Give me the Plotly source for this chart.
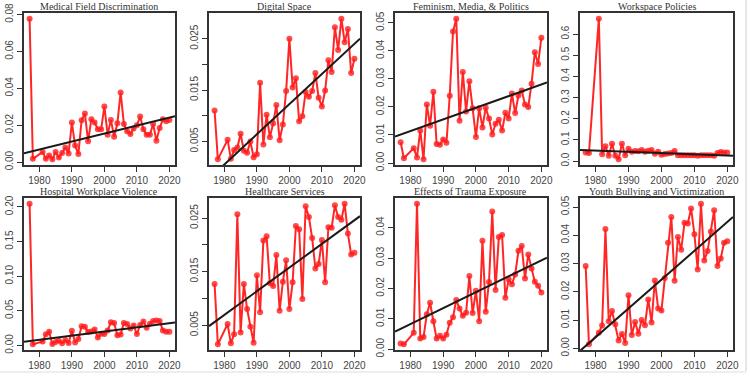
import plotly.graph_objects as go

# ---------------- data ----------------
years = [1977, 1978, 1981, 1982, 1983, 1984, 1985, 1986, 1987, 1988, 1989,
         1990, 1991, 1992, 1993, 1994, 1995, 1996, 1997, 1998, 1999,
         2000, 2001, 2002, 2003, 2004, 2005, 2006, 2007, 2008, 2009,
         2010, 2011, 2012, 2013, 2014, 2015, 2016, 2017, 2018, 2019, 2020]

titles = ["Medical Field Discrimination", "Digital Space", "Feminism, Media, & Politics",
          "Workspace Policies", "Hospital Workplace Violence", "Healthcare Services",
          "Effects of Trauma Exposure", "Youth Bullying and Victimization"]

medical_field = [0.0778, 0.0018, 0.0055, 0.0018, 0.0036, 0.0015, 0.0055, 0.0025, 0.0050, 0.0080, 0.0047,
                 0.0215, 0.0090, 0.0044, 0.0227, 0.0264, 0.0113, 0.0233, 0.0215, 0.0178, 0.0178,
                 0.0302, 0.0149, 0.0229, 0.0138, 0.0211, 0.0378, 0.0207, 0.0167, 0.0153, 0.0182,
                 0.0200, 0.0247, 0.0178, 0.0149, 0.0149, 0.0207, 0.0116, 0.0185, 0.0233, 0.0222, 0.0229]

digital_space = [0.0110, 0.0015, 0.0053, 0.0016, 0.0033, 0.0038, 0.0065, 0.0032, 0.0028, 0.0050, 0.0019,
                 0.0025, 0.0164, 0.0044, 0.0102, 0.0058, 0.0085, 0.0121, 0.0052, 0.0083, 0.0148,
                 0.0250, 0.0155, 0.0173, 0.0089, 0.0099, 0.0146, 0.0137, 0.0148, 0.0183, 0.0135,
                 0.0118, 0.0149, 0.0208, 0.0185, 0.0272, 0.0228, 0.0289, 0.0243, 0.0269, 0.0183, 0.0211]

feminism_media = [0.0074, 0.0017, 0.0053, 0.0020, 0.0116, 0.0013, 0.0209, 0.0133, 0.0254, 0.0068, 0.0065,
                  0.0084, 0.0072, 0.0240, 0.0469, 0.0515, 0.0151, 0.0325, 0.0184, 0.0292, 0.0195,
                  0.0093, 0.0195, 0.0127, 0.0197, 0.0159, 0.0102, 0.0140, 0.0154, 0.0116, 0.0179,
                  0.0159, 0.0248, 0.0178, 0.0241, 0.0259, 0.0209, 0.0200, 0.0283, 0.0395, 0.0353, 0.0447]

workspace_policies = [0.040, 0.038, 0.673, 0.032, 0.070, 0.025, 0.082, 0.025, 0.008, 0.082, 0.028,
                      0.058, 0.044, 0.047, 0.046, 0.052, 0.044, 0.049, 0.052, 0.035, 0.044,
                      0.030, 0.033, 0.036, 0.038, 0.047, 0.028, 0.027, 0.027, 0.027, 0.027,
                      0.028, 0.025, 0.027, 0.027, 0.027, 0.027, 0.025, 0.038, 0.043, 0.040, 0.040]

hospital_violence = [0.2048, 0.0015, 0.0058, 0.0160, 0.0198, 0.0020, 0.0050, 0.0067, 0.0030, 0.0077, 0.0034,
                     0.0212, 0.0043, 0.0092, 0.0275, 0.0270, 0.0193, 0.0202, 0.0231, 0.0116, 0.0169,
                     0.0164, 0.0217, 0.0333, 0.0323, 0.0145, 0.0159, 0.0323, 0.0308, 0.0246, 0.0289,
                     0.0164, 0.0294, 0.0347, 0.0255, 0.0313, 0.0352, 0.0361, 0.0352, 0.0217, 0.0198, 0.0198]

healthcare_services = [0.0127, 0.0014, 0.0052, 0.0016, 0.0033, 0.0257, 0.0036, 0.0127, 0.0080, 0.0047, 0.0017,
                       0.0143, 0.0074, 0.0208, 0.0216, 0.0128, 0.0123, 0.0181, 0.0077, 0.0131, 0.0171,
                       0.0080, 0.0130, 0.0235, 0.0229, 0.0099, 0.0272, 0.0252, 0.0213, 0.0156, 0.0164,
                       0.0209, 0.0130, 0.0233, 0.0232, 0.0274, 0.0252, 0.0247, 0.0277, 0.0221, 0.0182, 0.0185]

trauma_exposure = [0.0019, 0.0016, 0.0054, 0.0479, 0.0035, 0.0040, 0.0115, 0.0153, 0.0092, 0.0035, 0.0044,
                   0.0035, 0.0048, 0.0087, 0.0105, 0.0162, 0.0134, 0.0110, 0.0120, 0.0241, 0.0119,
                   0.0192, 0.0092, 0.0357, 0.0123, 0.0221, 0.0453, 0.0195, 0.0369, 0.0376, 0.0169,
                   0.0230, 0.0214, 0.0246, 0.0324, 0.0340, 0.0233, 0.0312, 0.0266, 0.0222, 0.0209, 0.0187]

youth_bullying = [0.0291, 0.0014, 0.0055, 0.0081, 0.0422, 0.0096, 0.0132, 0.0085, 0.0028, 0.0051, 0.0019,
                  0.0188, 0.0047, 0.0093, 0.0052, 0.0100, 0.0082, 0.0173, 0.0091, 0.0240, 0.0141,
                  0.0134, 0.0249, 0.0374, 0.0465, 0.0239, 0.0394, 0.0349, 0.0444, 0.0442, 0.0495,
                  0.0404, 0.0279, 0.0512, 0.0311, 0.0344, 0.0413, 0.0489, 0.0291, 0.0318, 0.0374, 0.0379]

series = [medical_field, digital_space, feminism_media, workspace_policies,
          hospital_violence, healthcare_services, trauma_exposure, youth_bullying]

# fitted trend line values at 1980 and 2020
trend_1980 = [0.0068, 0.0005, 0.0114, 0.0493, 0.0080, 0.0069, 0.0083, 0.0039]
trend_2020 = [0.0242, 0.0240, 0.0280, 0.0261, 0.0321, 0.0246, 0.0292, 0.0447]

# y tick values and labels
ytick_vals = [
    [0.00, 0.02, 0.04, 0.06, 0.08],
    [0.005, 0.010, 0.015, 0.020, 0.025],
    [0.00, 0.01, 0.02, 0.03, 0.04, 0.05],
    [0.0, 0.1, 0.2, 0.3, 0.4, 0.5, 0.6],
    [0.00, 0.05, 0.10, 0.15, 0.20],
    [0.005, 0.010, 0.015, 0.020, 0.025],
    [0.00, 0.01, 0.02, 0.03, 0.04],
    [0.00, 0.01, 0.02, 0.03, 0.04, 0.05],
]
ytick_text = [
    ["0.00", "0.02", "0.04", "0.06", "0.08"],
    ["0.005", "", "0.015", "", "0.025"],
    ["0.00", "0.01", "0.02", "0.03", "0.04", "0.05"],
    ["0.0", "0.1", "0.2", "0.3", "0.4", "0.5", "0.6"],
    ["0.00", "0.05", "0.10", "0.15", "0.20"],
    ["0.005", "", "0.015", "", "0.025"],
    ["0.00", "0.01", "0.02", "0.03", "0.04"],
    ["0.00", "0.01", "0.02", "0.03", "0.04", "0.05"],
]
xtick_vals = [1980, 1990, 2000, 2010, 2020]

# ---------------- layout geometry (pixels) ----------------
W, H = 750, 376
col_left = [24, 209, 395, 580]
col_right = [175, 360, 547, 733]
row_top = [13, 198]
row_bottom = [165, 350]

fig = go.Figure()
xmin, xmax = min(years), max(years)
xpad = 0.04 * (xmax - xmin)
xr = [xmin - xpad, xmax + xpad]

tick_font = dict(family="Liberation Sans, Arial, sans-serif", size=10, color="#444")
annotations = []

for i, ys in enumerate(series):
    r, c = divmod(i, 4)
    n = i + 1
    xa = "x" if n == 1 else f"x{n}"
    ya = "y" if n == 1 else f"y{n}"
    fig.add_trace(go.Scatter(
        x=years, y=ys, mode="lines+markers", xaxis=xa, yaxis=ya,
        line=dict(color="rgba(255,0,0,0.85)", width=2),
        marker=dict(color="rgba(255,30,30,0.8)", size=6),
        showlegend=False, hoverinfo="skip"))
    slope = (trend_2020[i] - trend_1980[i]) / 40.0
    tx = xr
    ty = [trend_1980[i] + slope * (x - 1980) for x in tx]
    fig.add_trace(go.Scatter(
        x=tx, y=ty, mode="lines", xaxis=xa, yaxis=ya,
        line=dict(color="#1a1a1a", width=2),
        showlegend=False, hoverinfo="skip"))

    ymin, ymax = min(ys), max(ys)
    ypad = 0.04 * (ymax - ymin)
    yr = [ymin - ypad, ymax + ypad]

    xdom = [col_left[c] / W, col_right[c] / W]
    ydom = [1 - row_bottom[r] / H, 1 - row_top[r] / H]
    xkey = "xaxis" if n == 1 else f"xaxis{n}"
    ykey = "yaxis" if n == 1 else f"yaxis{n}"
    fig.layout[xkey] = dict(
        domain=xdom, range=xr, anchor=ya, tickvals=xtick_vals,
        ticktext=[str(v) for v in xtick_vals],
        showline=True, mirror=True, linecolor="#333", linewidth=1.5,
        ticks="outside", ticklen=5, tickwidth=1, tickcolor="#333",
        showgrid=False, zeroline=False, tickfont=tick_font, tickangle=0,
        automargin=False)
    fig.layout[ykey] = dict(
        domain=ydom, range=yr, anchor=xa, tickvals=ytick_vals[i],
        ticktext=ytick_text[i],
        showline=True, mirror=True, linecolor="#333", linewidth=1.5,
        ticks="outside", ticklen=5, tickwidth=1, tickcolor="#333",
        showgrid=False, zeroline=False, tickfont=tick_font, tickangle=-90,
        automargin=False)
    annotations.append(dict(
        x=(xdom[0] + xdom[1]) / 2, y=1 - (row_top[r] - 6) / H,
        xref="paper", yref="paper", text=titles[i], showarrow=False,
        font=dict(family="Liberation Serif, Times New Roman, serif", size=10, color="#333"),
        xanchor="center", yanchor="middle"))

fig.update_layout(
    width=W, height=H, autosize=False, margin=dict(l=0, r=0, t=0, b=0, pad=0),
    paper_bgcolor="white", plot_bgcolor="white",
    annotations=annotations,
    shapes=[
        dict(type="line", xref="paper", yref="paper", x0=746 / W, x1=746 / W, y0=1 - 371 / H, y1=1,
             line=dict(color="#cccccc", width=1)),
        dict(type="line", xref="paper", yref="paper", x0=0, x1=746 / W, y0=1 - 372 / H, y1=1 - 372 / H,
             line=dict(color="#dddddd", width=1)),
    ],
)

fig.write_html("out.html", config={"displayModeBar": False, "responsive": False},
               post_script="document.body.style.margin='0';document.documentElement.style.overflow='hidden';")
